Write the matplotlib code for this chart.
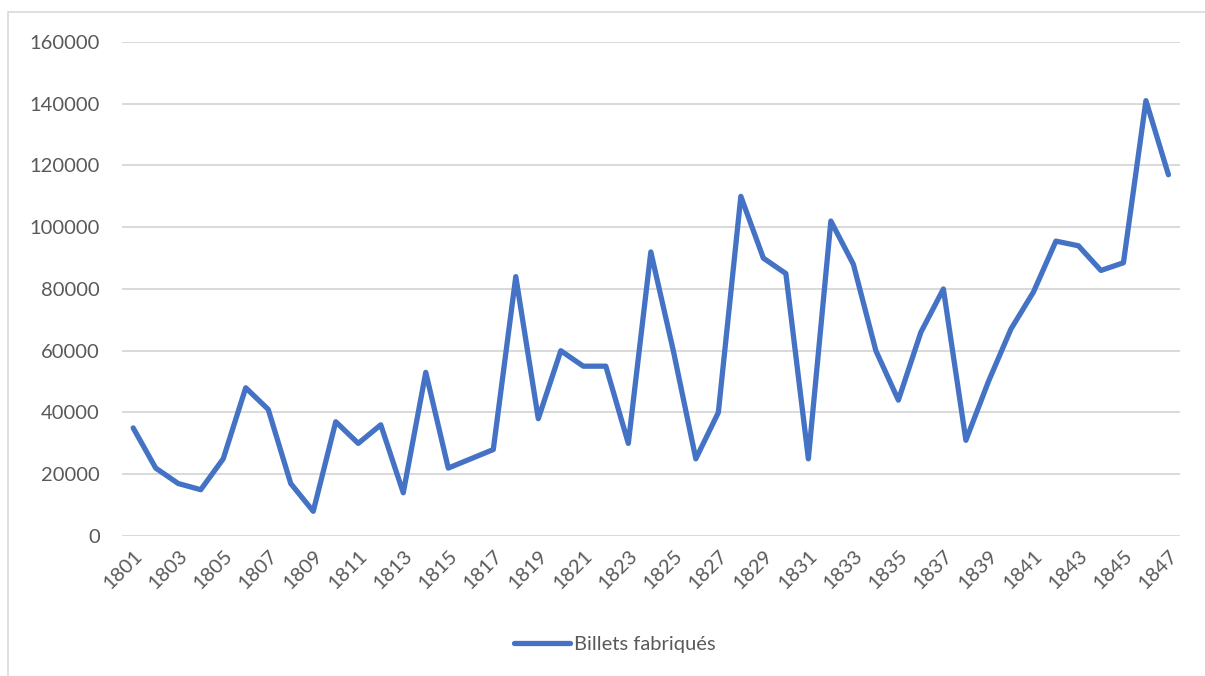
import matplotlib.pyplot as plt
from matplotlib.patches import Rectangle

# donnees
annees = list(range(1801, 1848))
billets = [35000, 22000, 17000, 15000, 25000, 48000, 41000, 17000, 8000, 37000,
           30000, 36000, 14000, 53000, 22000, 25000, 28000, 84000, 38000, 60000,
           55000, 55000, 30000, 92000, 60000, 25000, 40000, 110000, 90000, 85000,
           25000, 102000, 88000, 60000, 44000, 66000, 80000, 31000, 50000, 67000,
           79000, 95500, 94000, 86000, 88500, 141000, 117000]
yticks = list(range(0, 160001, 20000))
serie = "Billets fabriqués"

plt.rcParams['font.family'] = ['Lato', 'DejaVu Sans']
gris = '#595959'

fig = plt.figure(figsize=(12.05, 6.76), dpi=100)
ax = fig.add_axes([0.1012, 0.2071, 0.8778, 0.7308])

# cadre du graphique
fig.patches.append(Rectangle((8 / 1205, -0.1), 1.2, 1 - 12 / 676 + 0.1,
                             transform=fig.transFigure, fill=False,
                             edgecolor='#D9D9D9', linewidth=1.2))

x = list(range(len(annees)))
ax.plot(x, billets, color='#4472C4', linewidth=3.8, solid_joinstyle='round',
        solid_capstyle='round', label=serie)

ax.set_xlim(-0.5, len(annees) - 0.5)
ax.set_ylim(0, 160000)
ax.set_yticks(yticks)
ax.set_yticklabels([str(v) for v in yticks])
ax.yaxis.grid(True, color='#D9D9D9', linewidth=1.4)
ax.set_axisbelow(True)

ax.set_xticks(x[::2])
ax.set_xticklabels([str(a) for a in annees[::2]], rotation=45, ha='right',
                   rotation_mode='anchor')

for s in ['top', 'right', 'left', 'bottom']:
    ax.spines[s].set_visible(False)
ax.tick_params(axis='both', length=0, labelsize=14.5, colors=gris)
ax.tick_params(axis='y', pad=16)
ax.tick_params(axis='x', pad=8)

fig.legend(loc='center', bbox_to_anchor=(0.510, 0.046), frameon=False,
           fontsize=14.5, labelcolor=gris, handlelength=2.8, handletextpad=0.2)

fig.savefig('out.png', dpi=100)
